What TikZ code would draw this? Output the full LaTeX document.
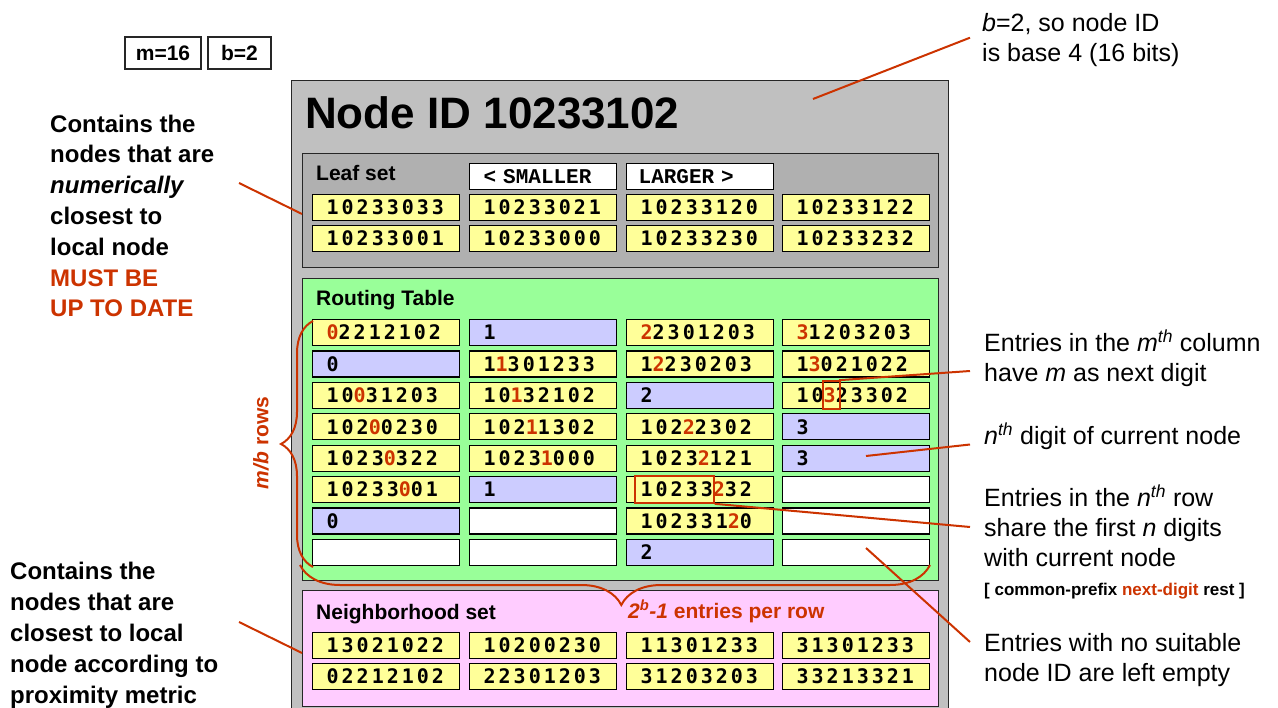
\documentclass[tikz,border=0pt]{standalone}
\usepackage{fontspec}
\setmainfont{Liberation Sans}
\newfontfamily\digfont{DejaVu Sans Mono}[LetterSpace=15]
\newfontfamily\courfont{Liberation Mono}
\usetikzlibrary{decorations.pathreplacing}
\definecolor{acc}{HTML}{CC3300}
\definecolor{cgray}{HTML}{C0C0C0}
\definecolor{cleaf}{HTML}{B0B0B0}
\definecolor{cgreen}{HTML}{99FF99}
\definecolor{cpink}{HTML}{FFCCFF}
\definecolor{cy}{HTML}{FFFF99}
\definecolor{cb}{HTML}{CCCCFF}
\newcommand\rd[1]{{\color{acc}#1}}
\newcommand\fs[2]{\fontsize{#1}{#2}\selectfont}
\newcommand\cellat[5]{\node[cellbox, fill=#4] (#1) at (#2,#3) {\hspace*{14pt}#5};}
\begin{document}
\begin{tikzpicture}[x=1pt,y=-1pt,
  secbox/.style={draw=black!85, line width=1.3pt, anchor=north west, inner sep=0pt},
  cellbox/.style={draw=black, line width=1.3pt, anchor=north west, minimum height=26pt,
    text width=147pt, inner xsep=0pt, inner ysep=0pt, text height=14.5pt, text depth=0pt,
    align=left, font=\digfont\bfseries\fs{20}{20}},
  hdrbox/.style={cellbox, fill=white, text height=13pt, font=\courfont\bfseries\fs{21}{21}},
  parbox/.style={draw=black!85, line width=1.3pt, fill=white, inner sep=0pt, minimum height=32pt, font=\bfseries\fs{21}{21}},
  seclabel/.style={anchor=base west, inner sep=0pt, font=\bfseries\fs{21}{25}},
  bnote/.style={anchor=base west, inner sep=0pt, align=left, font=\bfseries\fs{24}{30.8}},
  rnote/.style={anchor=base west, inner sep=0pt, align=left, font=\fs{25}{30.2}},
  redline/.style={draw=acc, line width=2pt},
  bracestyle/.style={draw=acc, line width=2pt, decorate},
  redbox/.style={draw=acc, line width=1.6pt, inner sep=0pt}
]
\useasboundingbox (0,0) rectangle (1278,708);

% parameter boxes
\node[parbox, minimum width=76pt] (pm) at (163,53) {m=16};
\node[parbox, minimum width=63pt] (pb) at (239.5,53) {b=2};

% sections
\node[secbox, fill=cgray, minimum width=657pt, minimum height=640pt] (outer) at (291,80) {};
\node[anchor=base west, inner sep=0pt, font=\bfseries\fs{44}{50}] (title) at (305,129) {Node ID 10233102};
\node[secbox, fill=cleaf, minimum width=636pt, minimum height=114pt] (leaf) at (302,153) {};
\node[secbox, fill=cgreen, minimum width=636pt, minimum height=302pt] (rt) at (302,278) {};
\node[secbox, fill=cpink, minimum width=636pt, minimum height=116pt] (nb) at (302,590) {};

\node[seclabel] (leaflab) at (316,181) {Leaf set};
\node[seclabel] (rtlab) at (316,305.5) {Routing Table};
\node[seclabel] (nblab) at (316,619) {Neighborhood set};

% leaf set
\node[hdrbox] (hs) at (469,163) {\hspace*{14pt}< SMALLER};
\node[hdrbox] (hl) at (626,163) {\hspace*{12pt}LARGER >};
\cellat{l11}{312}{194}{cy}{10233033}
\cellat{l12}{469}{194}{cy}{10233021}
\cellat{l13}{626}{194}{cy}{10233120}
\cellat{l14}{782}{194}{cy}{10233122}
\cellat{l21}{312}{225}{cy}{10233001}
\cellat{l22}{469}{225}{cy}{10233000}
\cellat{l23}{626}{225}{cy}{10233230}
\cellat{l24}{782}{225}{cy}{10233232}

% routing table
\cellat{r11}{312}{319}{cy}{\rd{0}2212102}
\cellat{r12}{469}{319}{cb}{1}
\cellat{r13}{626}{319}{cy}{\rd{2}2301203}
\cellat{r14}{782}{319}{cy}{\rd{3}1203203}
\cellat{r21}{312}{350.4}{cb}{0}
\cellat{r22}{469}{350.4}{cy}{1\rd{1}301233}
\cellat{r23}{626}{350.4}{cy}{1\rd{2}230203}
\cellat{r24}{782}{350.4}{cy}{1\rd{3}021022}
\cellat{r31}{312}{381.8}{cy}{10\rd{0}31203}
\cellat{r32}{469}{381.8}{cy}{10\rd{1}32102}
\cellat{r33}{626}{381.8}{cb}{2}
\cellat{r34}{782}{381.8}{cy}{10\rd{3}23302}
\cellat{r41}{312}{413.2}{cy}{102\rd{0}0230}
\cellat{r42}{469}{413.2}{cy}{102\rd{1}1302}
\cellat{r43}{626}{413.2}{cy}{102\rd{2}2302}
\cellat{r44}{782}{413.2}{cb}{3}
\cellat{r51}{312}{444.6}{cy}{1023\rd{0}322}
\cellat{r52}{469}{444.6}{cy}{1023\rd{1}000}
\cellat{r53}{626}{444.6}{cy}{1023\rd{2}121}
\cellat{r54}{782}{444.6}{cb}{3}
\cellat{r61}{312}{476}{cy}{10233\rd{0}01}
\cellat{r62}{469}{476}{cb}{1}
\cellat{r63}{626}{476}{cy}{10233\rd{2}32}
\cellat{r64}{782}{476}{white}{}
\cellat{r71}{312}{507.4}{cb}{0}
\cellat{r72}{469}{507.4}{white}{}
\cellat{r73}{626}{507.4}{cy}{102331\rd{2}0}
\cellat{r74}{782}{507.4}{white}{}
\cellat{r81}{312}{538.8}{white}{}
\cellat{r82}{469}{538.8}{white}{}
\cellat{r83}{626}{538.8}{cb}{2}
\cellat{r84}{782}{538.8}{white}{}

% neighborhood set
\cellat{n11}{312}{632}{cy}{13021022}
\cellat{n12}{469}{632}{cy}{10200230}
\cellat{n13}{626}{632}{cy}{11301233}
\cellat{n14}{782}{632}{cy}{31301233}
\cellat{n21}{312}{663}{cy}{02212102}
\cellat{n22}{469}{663}{cy}{22301203}
\cellat{n23}{626}{663}{cy}{31203203}
\cellat{n24}{782}{663}{cy}{33213321}

% red highlight boxes
\node[redbox, minimum width=17.5pt, minimum height=28pt] (rb1) at (831.5,395) {};
\node[redbox, minimum width=79pt, minimum height=27pt] (rb2) at (674.5,489.5) {};

% braces
\draw[bracestyle, decoration={brace, amplitude=32pt}] (313,567) -- (313,321);
\draw[bracestyle, decoration={brace, amplitude=40pt, aspect=0.49}] (930,565) -- (300,565);
\node[rotate=90, inner sep=0pt, text=acc, font=\bfseries\fs{21}{25}] (mbrows) at (261,443) {\textit{m/b} rows};
\node[anchor=base west, inner sep=0pt, text=acc, font=\bfseries\fs{21}{25}] (perrow) at (628,618) {\textit{2\textsuperscript{b}-1} entries per row};

% left notes (base anchor = baseline of last line)
\node[bnote] (noteleaf) at (50,317) {Contains the\\nodes that are\\\textit{numerically}\\closest to\\local node\\\rd{MUST BE}\\\rd{UP TO DATE}};
\node[bnote] (notenb) at (10,703) {Contains the\\nodes that are\\closest to local\\node according to\\proximity metric};

% right notes
\node[rnote] (notebase) at (982,61.5) {\textit{b}=2, so node ID\\is base 4 (16 bits)};
\node[rnote] (notecol) at (984,381.7) {Entries in the \textit{m}\textsuperscript{\textit{th}} column\\have \textit{m} as next digit};
\node[rnote] (notedig) at (984,445) {\textit{n}\textsuperscript{\textit{th}} digit of current node};
\node[rnote] (noterow) at (984,566.7) {Entries in the \textit{n}\textsuperscript{\textit{th}} row\\share the first \textit{n} digits\\with current node};
\node[anchor=base west, inner sep=0pt, font=\bfseries\fs{17}{20}] (noteprefix) at (984,595) {[ common-prefix \rd{next-digit} rest ]};
\node[rnote] (noteempty) at (984,681.7) {Entries with no suitable\\node ID are left empty};

% connector end points
\coordinate (cb1) at (970,37.7);  \coordinate (cb2) at (813,99);
\coordinate (cl1) at (239,183);   \coordinate (cl2) at (302,214);
\coordinate (cn1) at (239,622);   \coordinate (cn2) at (302,653);
\coordinate (cc1) at (970,371);
\coordinate (cd1) at (970,444.5); \coordinate (cd2) at (866,456);
\coordinate (cr1) at (970,527);
\coordinate (ce1) at (970,642);   \coordinate (ce2) at (866,548);

\draw[redline] (cb1) -- (cb2);
\draw[redline] (cl1) -- (cl2);
\draw[redline] (cn1) -- (cn2);
\draw[redline] (cc1) -- ([xshift=-2pt]rb1.north east);
\draw[redline] (cd1) -- (cd2);
\draw[redline] (rb2.south east) -- (cr1);
\draw[redline] (ce2) -- (ce1);
\end{tikzpicture}
\end{document}
